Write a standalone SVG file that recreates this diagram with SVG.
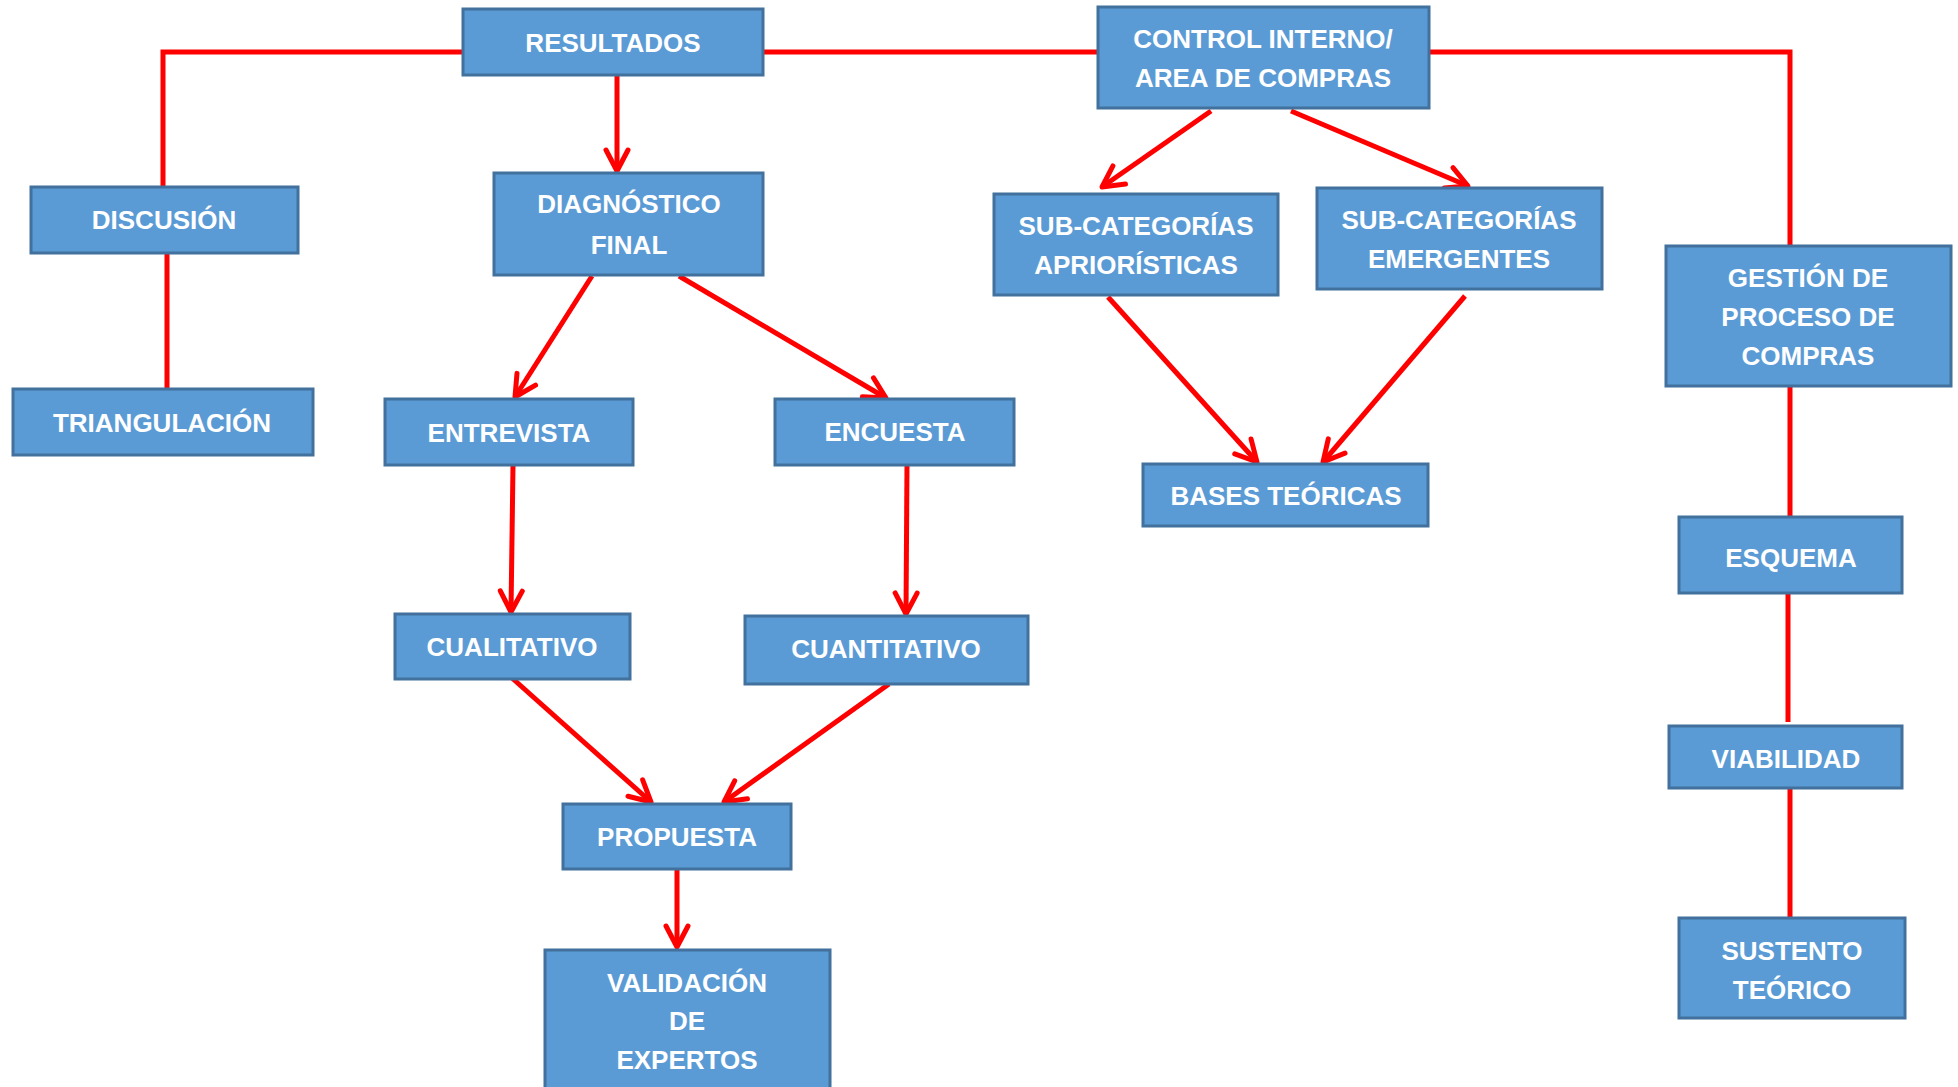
<svg xmlns="http://www.w3.org/2000/svg" width="1958" height="1087" viewBox="0 0 1958 1087">
<style>
.box{fill:#5B9BD5;stroke:#41719C;stroke-width:3}
.t{font-family:"Liberation Sans",Arial,sans-serif;font-weight:bold;font-size:26px;fill:#FFFFFF;text-anchor:middle}
.c{fill:none;stroke:#FF0000;stroke-width:5}
</style>
<defs>
<marker id="arr" markerUnits="userSpaceOnUse" markerWidth="40" markerHeight="40" viewBox="-30 -20 40 40" refX="0" refY="0" orient="auto" overflow="visible">
<path d="M-21,-11 L0,0 L-21,11" fill="none" stroke="#FF0000" stroke-width="5" stroke-linejoin="round" stroke-linecap="round"/>
</marker>
</defs>
<rect width="1958" height="1087" fill="#FFFFFF"/>
<g id="connectors">
<polyline class="c" points="463,52 163,52 163,187"/>
<line class="c" x1="763" y1="52" x2="1098" y2="52"/>
<polyline class="c" points="1429,52 1790,52 1790,246"/>
<line class="c" x1="167" y1="253" x2="167" y2="389"/>
<line class="c" x1="1790" y1="386" x2="1790" y2="517"/>
<line class="c" x1="1788" y1="593" x2="1788" y2="722"/>
<line class="c" x1="1790" y1="788" x2="1790" y2="918"/>
<line class="c" x1="617" y1="75" x2="617" y2="171" marker-end="url(#arr)"/>
<line class="c" x1="592" y1="276" x2="515" y2="397" marker-end="url(#arr)"/>
<line class="c" x1="679" y1="276" x2="886" y2="398" marker-end="url(#arr)"/>
<line class="c" x1="513" y1="465" x2="511" y2="612" marker-end="url(#arr)"/>
<line class="c" x1="907" y1="465" x2="906" y2="614" marker-end="url(#arr)"/>
<line class="c" x1="512" y1="678" x2="651" y2="802" marker-end="url(#arr)"/>
<line class="c" x1="889" y1="684" x2="724" y2="802" marker-end="url(#arr)"/>
<line class="c" x1="677" y1="869" x2="677" y2="947" marker-end="url(#arr)"/>
<line class="c" x1="1211" y1="111" x2="1102" y2="187" marker-end="url(#arr)"/>
<line class="c" x1="1291" y1="111" x2="1468" y2="186" marker-end="url(#arr)"/>
<line class="c" x1="1108" y1="297" x2="1257" y2="462" marker-end="url(#arr)"/>
<line class="c" x1="1465" y1="296" x2="1323" y2="462" marker-end="url(#arr)"/>
</g>
<g id="resultados"><rect class="box" x="463" y="9" width="300" height="66"/><text class="t" x="613" y="52">RESULTADOS</text></g>
<g id="control"><rect class="box" x="1098" y="7" width="331" height="101"/><text class="t" x="1263" y="48">CONTROL INTERNO/</text><text class="t" x="1263" y="87">AREA DE COMPRAS</text></g>
<g id="discusion"><rect class="box" x="31" y="187" width="267" height="66"/><text class="t" x="164" y="229">DISCUSIÓN</text></g>
<g id="triangulacion"><rect class="box" x="13" y="389" width="300" height="66"/><text class="t" x="162" y="432">TRIANGULACIÓN</text></g>
<g id="diagnostico"><rect class="box" x="494" y="173" width="269" height="102"/><text class="t" x="629" y="213">DIAGNÓSTICO</text><text class="t" x="629" y="254">FINAL</text></g>
<g id="entrevista"><rect class="box" x="385" y="399" width="248" height="66"/><text class="t" x="509" y="442">ENTREVISTA</text></g>
<g id="encuesta"><rect class="box" x="775" y="399" width="239" height="66"/><text class="t" x="895" y="441">ENCUESTA</text></g>
<g id="cualitativo"><rect class="box" x="395" y="614" width="235" height="65"/><text class="t" x="512" y="656">CUALITATIVO</text></g>
<g id="cuantitativo"><rect class="box" x="745" y="616" width="283" height="68"/><text class="t" x="886" y="658">CUANTITATIVO</text></g>
<g id="propuesta"><rect class="box" x="563" y="804" width="228" height="65"/><text class="t" x="677" y="846">PROPUESTA</text></g>
<g id="validacion"><rect class="box" x="545" y="950" width="285" height="145"/><text class="t" x="687" y="992">VALIDACIÓN</text><text class="t" x="687" y="1030">DE</text><text class="t" x="687" y="1069">EXPERTOS</text></g>
<g id="apriori"><rect class="box" x="994" y="194" width="284" height="101"/><text class="t" x="1136" y="235">SUB-CATEGORÍAS</text><text class="t" x="1136" y="274">APRIORÍSTICAS</text></g>
<g id="emergentes"><rect class="box" x="1317" y="188" width="285" height="101"/><text class="t" x="1459" y="229">SUB-CATEGORÍAS</text><text class="t" x="1459" y="268">EMERGENTES</text></g>
<g id="bases"><rect class="box" x="1143" y="464" width="285" height="62"/><text class="t" x="1286" y="505">BASES TEÓRICAS</text></g>
<g id="gestion"><rect class="box" x="1666" y="246" width="285" height="140"/><text class="t" x="1808" y="287">GESTIÓN DE</text><text class="t" x="1808" y="326">PROCESO DE</text><text class="t" x="1808" y="365">COMPRAS</text></g>
<g id="esquema"><rect class="box" x="1679" y="517" width="223" height="76"/><text class="t" x="1791" y="567">ESQUEMA</text></g>
<g id="viabilidad"><rect class="box" x="1669" y="726" width="233" height="62"/><text class="t" x="1786" y="768">VIABILIDAD</text></g>
<g id="sustento"><rect class="box" x="1679" y="918" width="226" height="100"/><text class="t" x="1792" y="960">SUSTENTO</text><text class="t" x="1792" y="999">TEÓRICO</text></g>
</svg>
